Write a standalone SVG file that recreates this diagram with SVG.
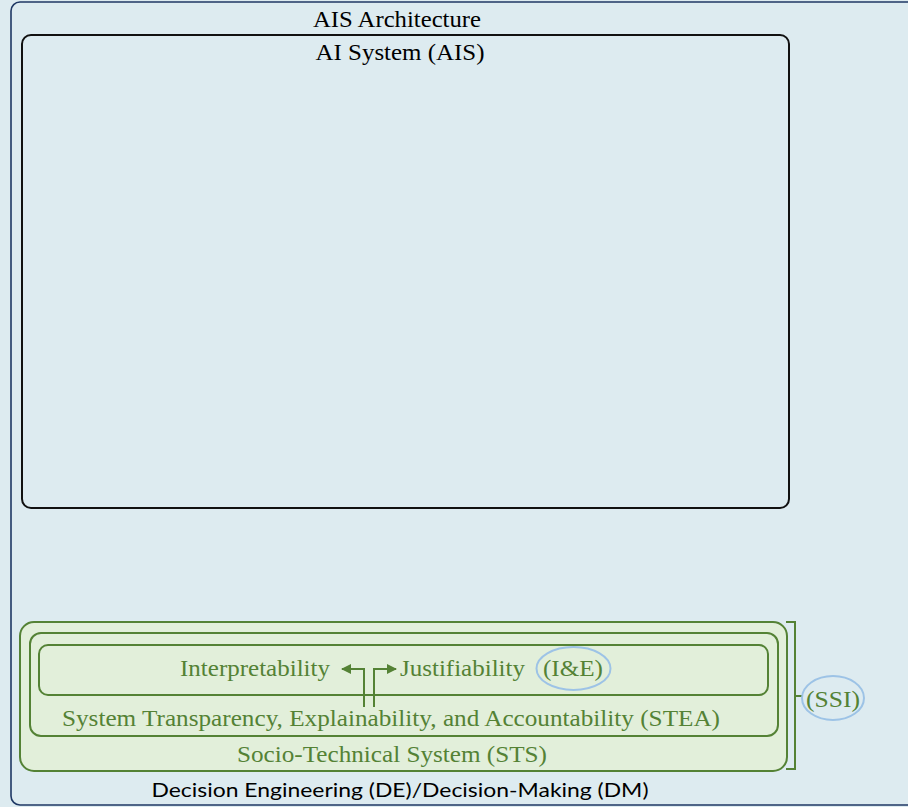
<svg xmlns="http://www.w3.org/2000/svg" width="908" height="807" viewBox="0 0 908 807">
<defs>
<style>
.title{font-family:'Liberation Serif','Times New Roman',serif;font-size:24px;fill:#000;}
.g{font-family:'Liberation Serif','Times New Roman',serif;font-size:24px;fill:#548235;}
.gbox{fill:#e2efda;stroke:#548235;stroke-width:2;}
.ell{fill:none;stroke:#9dc3e6;stroke-width:2;}
.conn{fill:none;stroke:#548235;stroke-width:2;}
</style>
<marker id="ah" viewBox="0 0 10 10" refX="9" refY="5" markerWidth="11" markerHeight="10" markerUnits="userSpaceOnUse" orient="auto">
<path d="M0,0 L10,5 L0,10 Z" fill="#548235"/>
</marker>
</defs>
<rect x="0" y="0" width="908" height="807" fill="#ddebf0"/>
<g id="ais-architecture">
<rect x="11" y="2" width="920" height="803" rx="9" fill="#ddebf0" stroke="#1f3864" stroke-width="1.6"/>
<text class="title" x="397" y="27" text-anchor="middle" textLength="168" lengthAdjust="spacingAndGlyphs">AIS Architecture</text>
<text x="400" y="797" text-anchor="middle" font-family="Lato, 'Open Sans', sans-serif" font-size="20" fill="#000" textLength="497" lengthAdjust="spacingAndGlyphs">Decision Engineering (DE)/Decision-Making (DM)</text>
</g>
<g id="ai-system">
<rect x="22" y="35" width="767" height="473" rx="9" fill="none" stroke="#111" stroke-width="2"/>
<text class="title" x="400" y="60" text-anchor="middle" textLength="169" lengthAdjust="spacingAndGlyphs">AI System (AIS)</text>
</g>
<g id="sts">
<rect class="gbox" x="20" y="622" width="767" height="149" rx="14"/>
<text class="g" x="392" y="762" text-anchor="middle" textLength="310" lengthAdjust="spacingAndGlyphs">Socio-Technical System (STS)</text>
</g>
<g id="stea">
<rect class="gbox" x="30" y="633" width="748" height="103" rx="11"/>
<text class="g" x="391" y="726" text-anchor="middle" textLength="658" lengthAdjust="spacingAndGlyphs">System Transparency, Explainability, and Accountability (STEA)</text>
</g>
<g id="ie">
<rect class="gbox" x="39" y="645" width="729" height="50" rx="9"/>
<text class="g" x="180" y="676" textLength="150" lengthAdjust="spacingAndGlyphs">Interpretability</text>
<text class="g" x="400" y="676" textLength="125" lengthAdjust="spacingAndGlyphs">Justifiability</text>
<ellipse class="ell" cx="573.5" cy="668.5" rx="37" ry="21.5"/>
<text class="g" x="573" y="676" text-anchor="middle" textLength="60" lengthAdjust="spacingAndGlyphs">(I&amp;E)</text>
</g>
<g id="ssi">
<path class="conn" d="M786,622 H795 V769 H786 M795,696 H803"/>
<ellipse class="ell" cx="833" cy="698" rx="31" ry="22"/>
<text class="g" x="833" y="707" text-anchor="middle" textLength="54" lengthAdjust="spacingAndGlyphs">(SSI)</text>
</g>
<g id="connectors">
<path class="conn" d="M364,707 V669 H342" marker-end="url(#ah)"/>
<path class="conn" d="M374,707 V669 H396" marker-end="url(#ah)"/>
</g>
</svg>
